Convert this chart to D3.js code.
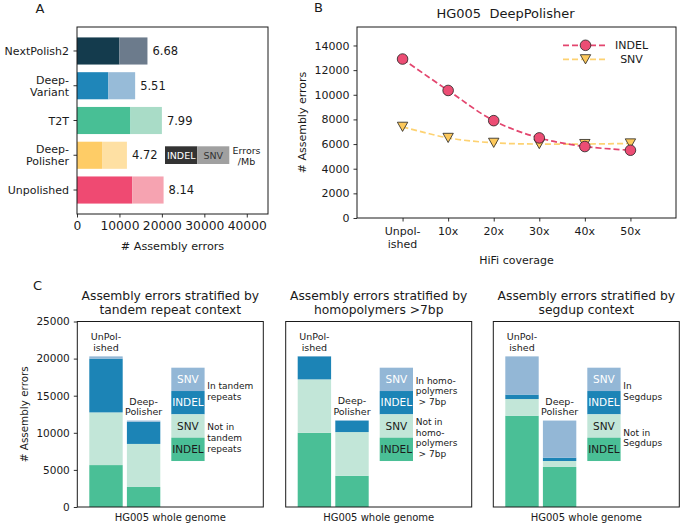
<!DOCTYPE html>
<html><head><meta charset="utf-8">
<script src="https://cdn.jsdelivr.net/npm/d3@7"></script>
<style>body{margin:0;background:#fff}svg{font-family:"DejaVu Sans",sans-serif}</style>
</head><body><svg id="c" width="680" height="525"></svg>
<script>
// ---------- Data ----------
// Panel A
const polishers = ["NextPolish2","Deep-\nVariant","T2T","Deep-\nPolisher","Unpolished"];
const indelErrors = [10000, 7400, 12600, 5900, 13000];
const snvErrors = [6600, 6300, 7400, 5860, 7400];
const errorsPerMb = ["6.68","5.51","7.99","4.72","8.14"];
const xTicksA = [0, 10000, 20000, 30000, 40000];
// Panel B
const coverage = ["Unpol-\nished","10x","20x","30x","40x","50x"];
const indelByCoverage = [12900, 10350, 7900, 6500, 5800, 5500];
const snvByCoverage = [7400, 6500, 6100, 6000, 6000, 6050];
const yTicksB = [0, 2000, 4000, 6000, 8000, 10000, 12000, 14000];
// Panel C
const assemblies = ["UnPol-\nished", "Deep-\nPolisher"];
const segmentKeys = ["indelOut", "snvOut", "indelIn", "snvIn"];
const tandemUnpolished = [5650, 7100, 7250, 300];
const tandemDeepPolisher = [2700, 5800, 3000, 150];
const homopolymerUnpolished = [10000, 7200, 3100, 40];
const homopolymerDeepPolisher = [4200, 5900, 1550, 30];
const segdupUnpolished = [12300, 2250, 600, 5150];
const segdupDeepPolisher = [5400, 800, 450, 5000];
const stratTitles = [["Assembly errors stratified by","tandem repeat context"],
                     ["Assembly errors stratified by","homopolymers >7bp"],
                     ["Assembly errors stratified by","segdup context"]];
const inLabels = [["In tandem","repeats"],["In homo-","polymers"," > 7bp"],["In","Segdups"]];
const outLabels = [["Not in","tandem","repeats"],["Not in","homo-","polymers"," > 7bp"],["Not in","Segdups"]];
const yTicksC = [0, 5000, 10000, 15000, 20000, 25000];

// ---------- Styles ----------
const indelColA = ["#143b4d","#1f86b9","#48bf95","#fecc66","#ef4a72"];
const snvColA = ["#6c7b8c","#97bbd8","#a9dcc7","#fee0a3","#f6a3b1"];
const segColors = ["#4abf96","#c2e6d8","#1c84b6","#93b7d6"];
const ink = "#1a1a1a";

const svg = d3.select("#c");

function mtext(g, x, y, lines, lh, anchor, size, fill) {
  const t = g.append("text").attr("x", x).attr("y", y).attr("text-anchor", anchor)
    .attr("font-size", size).attr("fill", fill || ink).style("white-space","pre");
  lines.forEach((l, i) => t.append("tspan").attr("x", x).attr("dy", i === 0 ? 0 : lh).text(l));
  return t;
}
function styleAxis(g, size) {
  g.select(".domain").remove();
  g.selectAll(".tick line").attr("stroke", ink).attr("stroke-width", 0.9);
  g.selectAll(".tick text").attr("fill", ink).attr("font-size", size).attr("font-family", "DejaVu Sans");
}

// ---------- Panel A ----------
{
  const L = 77, R = 268, T = 27, B = 214;
  const x = d3.scaleLinear([0, 45000], [L, R]);
  const y = d3.scaleBand(polishers, [T, B]).paddingInner(0.22).paddingOuter(0.3);
  const g = svg.append("g");
  polishers.forEach((p, i) => {
    g.append("rect").attr("x", x(0)).attr("y", y(p)).attr("width", x(indelErrors[i]) - x(0))
      .attr("height", y.bandwidth()).attr("fill", indelColA[i]);
    g.append("rect").attr("x", x(indelErrors[i])).attr("y", y(p))
      .attr("width", x(indelErrors[i] + snvErrors[i]) - x(indelErrors[i]))
      .attr("height", y.bandwidth()).attr("fill", snvColA[i]);
    g.append("text").attr("x", x(indelErrors[i] + snvErrors[i]) + 5)
      .attr("y", y(p) + y.bandwidth() / 2).attr("dy", "0.36em")
      .attr("font-size", 11.5).attr("fill", ink).text(errorsPerMb[i]);
  });
  g.append("rect").attr("x", L).attr("y", T).attr("width", R - L).attr("height", B - T)
    .attr("fill", "none").attr("stroke", ink).attr("stroke-width", 1);
  const ax = g.append("g").attr("transform", `translate(0,${B})`)
    .call(d3.axisBottom(x).tickValues(xTicksA).tickSize(3.5).tickPadding(4).tickFormat(d3.format("d")));
  styleAxis(ax, 12.3);
  const ay = g.append("g").attr("transform", `translate(${L},0)`)
    .call(d3.axisLeft(y).tickSize(3.5).tickFormat(""));
  styleAxis(ay, 11);
  polishers.forEach(p => {
    const lines = p.split("\n");
    const cy = y(p) + y.bandwidth() / 2;
    mtext(g, L - 8, cy + 4 - (lines.length - 1) * 6, lines, 12, "end", 11);
  });
  g.append("text").attr("x", (L + R) / 2).attr("y", 250).attr("text-anchor", "middle")
    .attr("font-size", 11.2).attr("fill", ink).text("# Assembly errors");
  // legend
  g.append("rect").attr("x", 165).attr("y", 146.3).attr("width", 32.3).attr("height", 17.7).attr("fill", "#333");
  g.append("rect").attr("x", 197.3).attr("y", 146.3).attr("width", 32).attr("height", 17.7).attr("fill", "#a0a0a0");
  g.append("text").attr("x", 181.2).attr("y", 158.6).attr("text-anchor", "middle").attr("font-size", 9.5).attr("fill", "#fff").text("INDEL");
  g.append("text").attr("x", 213.3).attr("y", 158.6).attr("text-anchor", "middle").attr("font-size", 9.5).attr("fill", "#333").text("SNV");
  mtext(g, 246.5, 154.3, ["Errors", "/Mb"], 11, "middle", 9.5);
  g.append("text").attr("x", 40).attr("y", 12.8).attr("text-anchor", "middle").attr("font-size", 13).attr("fill", ink).text("A");
}

// ---------- Panel B ----------
{
  const L = 357, R = 676, T = 27, B = 218;
  const x = d3.scaleLinear([-1, 6], [L, R]);
  const y = d3.scaleLinear([0, 15500], [B, T]);
  const g = svg.append("g");
  g.append("rect").attr("x", L).attr("y", T).attr("width", R - L).attr("height", B - T)
    .attr("fill", "none").attr("stroke", ink).attr("stroke-width", 1);
  const ay = g.append("g").attr("transform", `translate(${L},0)`)
    .call(d3.axisLeft(y).tickValues(yTicksB).tickSize(3.5).tickPadding(4).tickFormat(d3.format("d")));
  styleAxis(ay, 11);
  const ax = g.append("g").attr("transform", `translate(0,${B})`)
    .call(d3.axisBottom(x).tickValues(d3.range(coverage.length)).tickSize(3.5).tickFormat(""));
  styleAxis(ax, 11);
  coverage.forEach((c, i) => mtext(g, x(i), 235, c.split("\n"), 13.3, "middle", 11));
  const line = d3.line().x((d, i) => x(i)).y(d => y(d)).curve(d3.curveCatmullRom.alpha(0.5));
  const snvLine = "#fdd272", indelLine = "#e3456e";
  g.append("path").attr("d", line(snvByCoverage)).attr("fill", "none").attr("stroke", snvLine)
    .attr("stroke-width", 1.7).attr("stroke-dasharray", "6,3");
  g.append("path").attr("d", line(indelByCoverage)).attr("fill", "none").attr("stroke", indelLine)
    .attr("stroke-width", 1.7).attr("stroke-dasharray", "6,3");
  const tri = (cx, cy) => `M${cx - 5.2},${cy - 4.6}L${cx + 5.2},${cy - 4.6}L${cx},${cy + 4.6}Z`;
  snvByCoverage.forEach((v, i) => g.append("path").attr("d", tri(x(i), y(v)))
    .attr("fill", "#fdc95c").attr("stroke", "#222").attr("stroke-width", 0.8));
  indelByCoverage.forEach((v, i) => g.append("circle").attr("cx", x(i)).attr("cy", y(v)).attr("r", 5.3)
    .attr("fill", "#ec4d74").attr("stroke", "#222").attr("stroke-width", 0.8));
  // legend
  g.append("line").attr("x1", 563).attr("x2", 608).attr("y1", 45.3).attr("y2", 45.3)
    .attr("stroke", indelLine).attr("stroke-width", 1.7).attr("stroke-dasharray", "6,3");
  g.append("circle").attr("cx", 585.5).attr("cy", 45.3).attr("r", 5.3).attr("fill", "#ec4d74").attr("stroke", "#222").attr("stroke-width", 0.8);
  g.append("line").attr("x1", 563).attr("x2", 608).attr("y1", 59.3).attr("y2", 59.3)
    .attr("stroke", snvLine).attr("stroke-width", 1.7).attr("stroke-dasharray", "6,3");
  g.append("path").attr("d", tri(585.5, 59.3)).attr("fill", "#fdc95c").attr("stroke", "#222").attr("stroke-width", 0.8);
  g.append("text").attr("x", 631.5).attr("y", 49.3).attr("text-anchor", "middle").attr("font-size", 11).attr("fill", ink).text("INDEL");
  g.append("text").attr("x", 631.5).attr("y", 63.3).attr("text-anchor", "middle").attr("font-size", 11).attr("fill", ink).text("SNV");
  g.append("text").attr("x", 505.5).attr("y", 18).attr("text-anchor", "middle").attr("font-size", 13)
    .attr("fill", ink).style("white-space", "pre").text("HG005  DeepPolisher");
  g.append("text").attr("x", (L + R) / 2).attr("y", 264).attr("text-anchor", "middle").attr("font-size", 11).attr("fill", ink).text("HiFi coverage");
  g.append("text").attr("transform", `translate(305.5,${(T + B) / 2}) rotate(-90)`).attr("text-anchor", "middle")
    .attr("font-size", 11).attr("fill", ink).text("# Assembly errors");
  g.append("text").attr("x", 318.5).attr("y", 11.8).attr("text-anchor", "middle").attr("font-size", 13).attr("fill", ink).text("B");
}

// ---------- Panel C ----------
{
  const T = 321.5, B = 507, W = 186;
  const lefts = [77.3, 285.7, 493.3];
  const data = [[tandemUnpolished, tandemDeepPolisher], [homopolymerUnpolished, homopolymerDeepPolisher], [segdupUnpolished, segdupDeepPolisher]];
  const y = d3.scaleLinear([0, 25000], [B, T]);
  const g = svg.append("g");
  data.forEach((pair, p) => {
    const L = lefts[p];
    const x = d3.scaleBand(assemblies, [L + 12, L + 83]).paddingInner(0.112).paddingOuter(0);
    const rows = pair.map((vals, j) => {
      const o = { asm: assemblies[j] };
      segmentKeys.forEach((k, s) => o[k] = vals[s]);
      return o;
    });
    const stacked = d3.stack().keys(segmentKeys)(rows);
    stacked.forEach((layer, s) => {
      layer.forEach(d => {
        g.append("rect").attr("x", x(d.data.asm)).attr("width", x.bandwidth())
          .attr("y", y(d[1])).attr("height", Math.max(0, y(d[0]) - y(d[1]))).attr("fill", segColors[s]);
      });
    });
    rows.forEach(r => {
      const top = y(d3.sum(segmentKeys, k => r[k]));
      const lines = r.asm.split("\n");
      mtext(g, x(r.asm) + x.bandwidth() / 2, top - 5.5 - (lines.length - 1) * 10.5, lines, 10.5, "middle", 9.5);
    });
    g.append("rect").attr("x", L).attr("y", T).attr("width", W).attr("height", B - T)
      .attr("fill", "none").attr("stroke", ink).attr("stroke-width", 1);
    // legend blocks
    const legendItems = [["SNV", 3, "#fff"], ["INDEL", 2, "#fff"], ["SNV", 1, ink], ["INDEL", 0, ink]];
    const bh = 23.33, by0 = 367.7, lx = L + 94, lw = 33.3;
    legendItems.forEach((it, k) => {
      g.append("rect").attr("x", lx).attr("y", by0 + k * bh).attr("width", lw).attr("height", bh).attr("fill", segColors[it[1]]);
      g.append("text").attr("x", lx + lw / 2).attr("y", by0 + k * bh + bh / 2).attr("dy", "0.36em")
        .attr("text-anchor", "middle").attr("font-size", 10.5).attr("fill", it[2]).text(it[0]);
    });
    const ilh = 10.6;
    const inL = inLabels[p], outL = outLabels[p];
    mtext(g, L + 130, 391 + 3.2 - (inL.length - 1) * ilh / 2, inL, ilh, "start", 9);
    mtext(g, L + 130, 437.7 + 3.2 - (outL.length - 1) * ilh / 2, outL, ilh, "start", 9);
    mtext(g, L + W / 2, 299.5, stratTitles[p], 14, "middle", 12.3);
    g.append("text").attr("x", L + W / 2).attr("y", 521).attr("text-anchor", "middle").attr("font-size", 10).attr("fill", ink).text("HG005 whole genome");
    if (p === 0) {
      const ay = g.append("g").attr("transform", `translate(${L},0)`)
        .call(d3.axisLeft(y).tickValues(yTicksC).tickSize(3.5).tickPadding(4).tickFormat(d3.format("d")));
      styleAxis(ay, 10.5);
      g.append("text").attr("transform", `translate(28,${(T + B) / 2}) rotate(-90)`).attr("text-anchor", "middle")
        .attr("font-size", 10.4).attr("fill", ink).text("# Assembly errors");
    }
  });
  g.append("text").attr("x", 37.5).attr("y", 289.5).attr("text-anchor", "middle").attr("font-size", 13).attr("fill", ink).text("C");
}
</script></body></html>
